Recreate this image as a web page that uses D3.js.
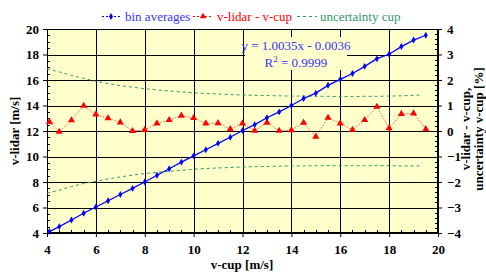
<!DOCTYPE html>
<html>
<head>
<meta charset="utf-8">
<script src="https://cdn.jsdelivr.net/npm/d3@7"></script>
<style>
  body { margin: 0; background: #fff; }
  svg, svg text { font-family: "Liberation Serif", "Times New Roman", serif; }
</style>
</head>
<body>
<div id="chart"></div>
<script>
// bin centres of v-cup [m/s]
const vCup = [4.1, 4.5, 5.0, 5.5, 6.0, 6.5, 7.0, 7.5, 8.0, 8.5, 9.0, 9.5, 10.0, 10.5, 11.0, 11.5,
              12.0, 12.5, 13.0, 13.5, 14.0, 14.5, 15.0, 15.5, 16.0, 16.5, 17.0, 17.5, 18.0, 18.5, 19.0, 19.5];
// bin averages of v-lidar [m/s]
const vLidar = [4.11, 4.50, 5.02, 5.55, 6.04, 6.53, 7.02, 7.50, 8.00, 8.53, 9.04, 9.56, 10.05, 10.53, 11.03, 11.51,
                12.04, 12.50, 13.04, 13.50, 14.00, 14.55, 14.97, 15.58, 16.05, 16.51, 17.07, 17.67, 18.02, 18.62, 19.13, 19.51];
// v-lidar - v-cup [%]
const diffPct = [0.36, -0.03, 0.42, 0.99, 0.65, 0.50, 0.34, 0.00, 0.04, 0.30, 0.43, 0.60, 0.51, 0.30, 0.31, 0.07,
                 0.30, 0.01, 0.33, 0.01, 0.03, 0.33, -0.22, 0.52, 0.30, 0.04, 0.43, 0.95, 0.11, 0.67, 0.69, 0.07];
// uncertainty of the cup [%], upper and lower band
const uncX = [4.0, 4.5, 5.0, 5.5, 6.0, 6.5, 7.0, 7.5, 8.0, 8.5, 9.0, 9.5, 10.0, 10.5, 11.0, 11.5,
              12.0, 12.5, 13.0, 13.5, 14.0, 14.5, 15.0, 15.5, 16.0, 16.5, 17.0, 17.5, 18.0, 18.5, 19.0, 19.3];
const uncUpper = [2.44, 2.32, 2.18, 2.06, 1.95, 1.86, 1.78, 1.72, 1.66, 1.61, 1.57, 1.53, 1.50, 1.47, 1.45, 1.43,
                  1.41, 1.40, 1.39, 1.38, 1.37, 1.37, 1.36, 1.36, 1.35, 1.35, 1.36, 1.36, 1.37, 1.38, 1.40, 1.41];
const uncLower = [-2.44, -2.32, -2.18, -2.06, -1.97, -1.88, -1.80, -1.73, -1.67, -1.62, -1.58, -1.54, -1.50, -1.47, -1.45, -1.43,
                  -1.41, -1.40, -1.39, -1.38, -1.37, -1.37, -1.36, -1.36, -1.36, -1.36, -1.36, -1.36, -1.36, -1.37, -1.37, -1.37];

const xTicks = [4, 6, 8, 10, 12, 14, 16, 18, 20];
const yTicks = [4, 6, 8, 10, 12, 14, 16, 18, 20];
const y2Ticks = [-4, -3, -2, -1, 0, 1, 2, 3, 4];

const legendItems = ["bin averages", "v-lidar - v-cup", "uncertainty cup"];
const fitLabel = "y = 1.0035x - 0.0036";
const r2Label = "0.9999";

const W = 486, H = 273;
const plot = {left: 47, right: 438, top: 29, bottom: 233};
const BLUE = "#0000ff", RED = "#ff0000", GREEN = "#339966", BG = "#ffffcc";
const SERIF = "Liberation Serif, Times New Roman, serif";

const svg = d3.select("#chart").append("svg").attr("width", W).attr("height", H)
    .attr("font-family", SERIF);

const x = d3.scaleLinear().domain([4, 20]).range([plot.left, plot.right]);
const y = d3.scaleLinear().domain([4, 20]).range([plot.bottom, plot.top]);
const y2 = d3.scaleLinear().domain([-4, 4]).range([plot.bottom, plot.top]);

//plot background
svg.append("rect")
    .attr("x", plot.left).attr("y", plot.top)
    .attr("width", plot.right - plot.left).attr("height", plot.bottom - plot.top)
    .attr("fill", BG);

//grid lines
const grid = svg.append("g").attr("stroke", "#000").attr("stroke-width", 1);
grid.selectAll(".gx").data(xTicks.slice(1, -1)).join("line")
    .attr("x1", d => Math.round(x(d)) + 0.5).attr("x2", d => Math.round(x(d)) + 0.5)
    .attr("y1", plot.top).attr("y2", plot.bottom);
grid.selectAll(".gy").data(yTicks.slice(1, -1)).join("line")
    .attr("y1", d => Math.round(y(d)) + 0.5).attr("y2", d => Math.round(y(d)) + 0.5)
    .attr("x1", plot.left).attr("x2", plot.right);

//border of the plot
svg.append("rect")
    .attr("x", plot.left + 0.5).attr("y", plot.top + 0.5)
    .attr("width", plot.right - plot.left - 1).attr("height", plot.bottom - plot.top - 1)
    .attr("fill", "none").attr("stroke", "#000");

//minor ticks (pointing into the plot)
const minor = svg.append("g").attr("stroke", "#000");
minor.selectAll(".mx").data(d3.range(4, 20.01, 0.5)).join("line")
    .attr("x1", d => Math.round(x(d)) + 0.5).attr("x2", d => Math.round(x(d)) + 0.5)
    .attr("y1", plot.bottom).attr("y2", plot.bottom - 3);
minor.selectAll(".my").data(d3.range(4, 20.01, 0.5)).join("line")
    .attr("y1", d => Math.round(y(d)) + 0.5).attr("y2", d => Math.round(y(d)) + 0.5)
    .attr("x1", plot.left).attr("x2", plot.left + 3);
minor.selectAll(".my2").data(d3.range(-4, 4.01, 0.2)).join("line")
    .attr("y1", d => Math.round(y2(d)) + 0.5).attr("y2", d => Math.round(y2(d)) + 0.5)
    .attr("x1", plot.right).attr("x2", plot.right - 3);

//axes
const tickFont = g => g.selectAll("text")
    .attr("font-family", SERIF)
    .attr("font-size", 13).attr("font-weight", "bold").attr("fill", "#000");

const xAxis = svg.append("g").attr("transform", `translate(0,${plot.bottom})`)
    .call(d3.axisBottom(x).tickValues(xTicks).tickFormat(d3.format("d")).tickSize(4).tickPadding(8));
xAxis.call(tickFont);
const yAxis = svg.append("g").attr("transform", `translate(${plot.left},0)`)
    .call(d3.axisLeft(y).tickValues(yTicks).tickFormat(d3.format("d")).tickSize(4).tickPadding(4));
yAxis.call(tickFont);
const y2Axis = svg.append("g").attr("transform", `translate(${plot.right},0)`)
    .call(d3.axisRight(y2).tickValues(y2Ticks).tickFormat(d3.format("d")).tickSize(4).tickPadding(5));
y2Axis.call(tickFont);
[xAxis, yAxis, y2Axis].forEach(a => a.attr("font-family", SERIF).select(".domain").attr("stroke", "#000"));

//uncertainty band
const uncLine = d3.line().x(d => x(d[0])).y(d => y2(d[1]));
[uncUpper, uncLower].forEach(arr => {
    svg.append("path")
        .datum(uncX.map((v, i) => [v, arr[i]]))
        .attr("d", uncLine)
        .attr("fill", "none").attr("stroke", GREEN).attr("stroke-width", 1)
        .attr("stroke-dasharray", "3,3");
});

//v-lidar - v-cup
const diff = vCup.map((v, i) => [v, diffPct[i]]);
svg.append("path")
    .datum(diff)
    .attr("d", d3.line().x(d => x(d[0])).y(d => y2(d[1])))
    .attr("fill", "none").attr("stroke", "#ff5555").attr("stroke-width", 1)
    .attr("stroke-dasharray", "1.5,1.5");
svg.selectAll(".tri").data(diff).join("path")
    .attr("d", d3.symbol(d3.symbolTriangle, 22))
    .attr("transform", d => `translate(${x(d[0])},${y2(d[1])})`)
    .attr("fill", RED);

//bin averages
const bins = vCup.map((v, i) => [v, vLidar[i]]);
svg.append("path")
    .datum(bins)
    .attr("d", d3.line().x(d => x(d[0])).y(d => y(d[1])))
    .attr("fill", "none").attr("stroke", BLUE).attr("stroke-width", 1.3);
svg.selectAll(".sq").data(bins).join("path")
    .attr("d", d3.symbol(d3.symbolDiamond, 14))
    .attr("transform", d => `translate(${x(d[0])},${y(d[1])})`)
    .attr("fill", BLUE);

//regression label with a box in the plot colour
svg.append("rect").attr("x", 245).attr("y", 37).attr("width", 102).attr("height", 33).attr("fill", BG);
const eq = svg.append("text").attr("fill", "#3333ff").attr("font-size", 13).attr("text-anchor", "middle");
eq.append("tspan").attr("x", 296).attr("y", 50).text(fitLabel);
const r2 = eq.append("tspan").attr("x", 296).attr("y", 67);
r2.append("tspan").text("R");
r2.append("tspan").attr("dy", -5).attr("font-size", 9).text("2");
r2.append("tspan").attr("dy", 5).text(" = " + r2Label);

//legend
const legend = svg.append("g");
const legendPos = [{x0: 102, x1: 120, tx: 125, c: BLUE, tc: "#3333ff", dash: "2,2"},
                   {x0: 193, x1: 213, tx: 217, c: RED, tc: RED, dash: "2,2"},
                   {x0: 297, x1: 317, tx: 320, c: GREEN, tc: GREEN, dash: "3,3"}];
legendItems.forEach((name, i) => {
    const p = legendPos[i];
    legend.append("line").attr("x1", p.x0).attr("x2", p.x1).attr("y1", 16.5).attr("y2", 16.5)
        .attr("stroke", p.c).attr("stroke-dasharray", p.dash);
    if (i == 0) {
        legend.append("path").attr("d", d3.symbol(d3.symbolDiamond, 14))
            .attr("transform", `translate(${(p.x0 + p.x1) / 2},16.5)`).attr("fill", p.c);
    }
    if (i == 1) {
        legend.append("path").attr("d", d3.symbol(d3.symbolTriangle, 18))
            .attr("transform", `translate(${(p.x0 + p.x1) / 2},16.5)`).attr("fill", p.c);
    }
    legend.append("text").attr("x", p.tx).attr("y", 21).attr("font-size", 13)
        .attr("fill", p.tc).text(name);
});

//axis titles
svg.append("text").attr("x", 242).attr("y", 269).attr("text-anchor", "middle")
    .attr("font-size", 13).attr("font-weight", "bold").text("v-cup [m/s]");
svg.append("text").attr("transform", "translate(19,131) rotate(-90)").attr("text-anchor", "middle")
    .attr("font-size", 13).attr("font-weight", "bold").text("v-lidar [m/s]");
const rt = svg.append("text").attr("transform", "translate(470,129) rotate(-90)").attr("text-anchor", "middle")
    .attr("font-size", 13).attr("font-weight", "bold");
rt.append("tspan").attr("x", 0).attr("y", 0).text("v-lidar - v-cup,");
rt.append("tspan").attr("x", 0).attr("y", 12.5).text("uncertainty v-cup [%]");
</script>
</body>
</html>
